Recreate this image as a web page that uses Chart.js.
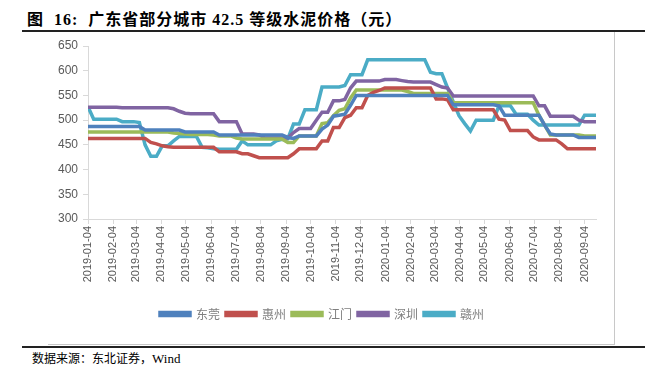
<!DOCTYPE html>
<html>
<head>
<meta charset="utf-8">
<script src="https://cdn.jsdelivr.net/npm/chart.js@4.4.0/dist/chart.umd.min.js"></script>
<style>
  html, body { margin: 0; padding: 0; background: #fff; }
  body { width: 647px; height: 366px; position: relative; overflow: hidden; }
  #title { position: absolute; left: 27px; top: 6px; font-family: "Liberation Serif", "Noto Sans CJK SC", serif; font-weight: bold; font-size: 16px; letter-spacing: 1px; color: #000; white-space: nowrap; }
  #rule1 { position: absolute; left: 22px; top: 30px; width: 623px; height: 2px; background: #222; }
  #frame { position: absolute; left: 48px; top: 32px; width: 566px; height: 312px; border-right: 1px solid #c8c8c8; border-bottom: 1px solid #c8c8c8; }
  #rule2 { position: absolute; left: 22px; top: 346px; width: 623px; height: 2px; background: #222; }
  #source { position: absolute; left: 32px; top: 349px; font-family: "Noto Sans CJK SC", serif; font-size: 12px; color: #000; white-space: nowrap; }
  #source span { font-family: "Liberation Serif", serif; font-size: 13px; }
  #wrap { position: absolute; left: 0; top: 0; width: 647px; height: 366px; }
</style>
</head>
<body>
<div id="title">图&nbsp;&nbsp;16:&nbsp;&nbsp;广东省部分城市 42.5 等级水泥价格（元）</div>
<div id="rule1"></div>
<div id="frame"></div>
<div id="rule2"></div>
<div id="source">数据来源：东北证券，<span>Wind</span></div>
<div id="wrap"><canvas id="c" width="647" height="366"></canvas></div>
<script>
// ---- data (weekly observations starting 2019-01-04) ----
const startDate = '2019-01-04';
const weekCount = 90;
const seriesNames = ['东莞', '惠州', '江门', '深圳', '赣州'];
const seriesColors = ['#4F81BD', '#C0504D', '#9BBB59', '#8064A2', '#4BACC6'];

const dongguan = [487,487,487,487,487,487,487,487,487,487,
  480,480,480,480,480,480,480,
  476,476,476,476,476,476,
  470,470,470,470,470,470,470,470,470,470,470,470,
  465,463,
  468,468,468,468,
  482,490,508,510,512,530,
  550,550,550,550,550,550,550,550,550,550,550,550,550,550,550,550,550,
  531,531,531,531,531,531,531,531,
  529,
  510,510,510,510,510,510,510,
  490,472,
  470,470,470,470,
  465,465,465,465];

const huizhou = [463,463,463,463,463,463,463,463,463,463,463,
  455,452,448,446,
  445,445,445,445,445,445,445,445,
  436,436,436,436,
  432,432,
  428,
  424,424,424,424,424,424,
  432,
  442,442,442,442,
  458,458,
  485,485,
  505,510,
  525,525,
  550,556,560,
  565,565,565,565,565,565,565,565,565,
  543,543,
  541,
  521,521,521,521,521,521,521,521,
  502,500,
  479,479,479,479,
  466,
  460,460,460,460,
  452,
  442,442,442,442,442,442];

const jiangmen = [476,476,476,476,476,476,476,476,476,476,476,476,476,476,476,
  474,473,472,
  471,471,471,471,
  470,
  468,468,468,
  464,
  462,462,462,462,462,462,462,462,
  455,455,
  468,468,468,468,
  493,495,509,520,523,545,
  561,561,561,561,561,561,561,561,561,
  558,
  554,554,554,554,554,554,554,
  535,535,535,535,535,535,535,535,535,535,535,535,535,535,535,
  510,490,
  470,470,470,470,470,470,
  468,468,468];

const shenzhen = [526,526,526,526,526,526,
  525,525,525,525,525,525,525,525,525,
  523,518,514,
  513,513,513,513,513,
  497,497,497,497,
  472,472,472,
  470,
  464,464,464,464,464,
  475,
  483,483,483,
  500,
  516,516,
  539,539,
  542,565,
  579,579,579,579,579,
  582,582,582,
  580,578,
  577,577,577,577,
  572,567,565,
  549,549,549,549,549,549,549,549,549,549,549,549,549,549,549,
  529,529,
  508,508,508,508,508,
  500,
  497,497,497];

const ganzhou = [527,
  502,502,502,502,502,
  497,497,497,
  495,450,
  427,427,
  448,448,
  458,
  467,467,467,467,
  445,444,442,
  441,441,441,441,
  458,
  450,450,450,450,450,
  458,461,462,
  492,492,
  521,521,521,
  567,567,567,567,
  570,
  592,592,592,
  622,622,622,622,622,622,622,622,622,622,622,
  597,
  594,594,
  565,537,509,493,478,
  500,500,500,500,
  529,529,529,
  512,512,512,
  500,
  490,490,490,490,490,490,490,490,
  510,510,510];

const tickLabels = ['2019-01-04','2019-02-04','2019-03-04','2019-04-04','2019-05-04','2019-06-04',
  '2019-07-04','2019-08-04','2019-09-04','2019-10-04','2019-11-04','2019-12-04',
  '2020-01-04','2020-02-04','2020-03-04','2020-04-04','2020-05-04','2020-06-04',
  '2020-07-04','2020-08-04','2020-09-04'];
const yTicks = [300, 350, 400, 450, 500, 550, 600, 650];

// ---- build ----
const DAY = 86400000;
const t0 = Date.parse(startDate + 'T00:00:00Z');
const dayOf = s => Math.round((Date.parse(s + 'T00:00:00Z') - t0) / DAY);
const weekDays = [];
for (let i = 0; i < weekCount; i++) weekDays.push(i * 7);
const tickDays = tickLabels.map(dayOf);
const labelOfDay = {};
tickLabels.forEach((s, i) => { labelOfDay[tickDays[i]] = s; });

const allSeries = [dongguan, huizhou, jiangmen, shenzhen, ganzhou];
const datasets = allSeries.map((vals, k) => ({
  label: seriesNames[k],
  data: vals.map((v, i) => ({ x: weekDays[i], y: v })),
  borderColor: seriesColors[k],
  backgroundColor: seriesColors[k],
  borderWidth: 3.5,
  pointRadius: 0,
  tension: 0,
  fill: false
}));

const axisGrey = '#d9d9d9';
new Chart(document.getElementById('c'), {
  type: 'line',
  data: { datasets },
  options: {
    responsive: false,
    animation: false,
    devicePixelRatio: 1,
    layout: { padding: { left: 48, right: 51, top: 46, bottom: 36 } },
    plugins: {
      legend: {
        display: true,
        position: 'bottom',
        labels: {
          boxWidth: 30,
          boxHeight: 3,
          padding: 6,
          color: '#7f7f7f',
          font: { family: '"Noto Sans CJK SC"', size: 12 }
        }
      },
      tooltip: { enabled: false }
    },
    scales: {
      x: {
        type: 'linear',
        min: 0,
        max: weekDays[weekDays.length - 1],
        afterBuildTicks: s => { s.ticks = tickDays.map(v => ({ value: v })); },
        afterFit: s => { s.height = 83; },
        ticks: {
          autoSkip: false,
          minRotation: 90,
          maxRotation: 90,
          padding: 2,
          color: '#595959',
          font: { family: '"Liberation Sans", sans-serif', size: 11 },
          callback: v => labelOfDay[v] || ''
        },
        grid: { display: true, drawOnChartArea: false, drawTicks: true, tickLength: 5, color: axisGrey },
        border: { display: true, color: axisGrey, width: 1 }
      },
      y: {
        type: 'linear',
        min: 300,
        max: 650,
        afterBuildTicks: s => { s.ticks = yTicks.map(v => ({ value: v })); },
        afterFit: s => { s.width = 40; },
        ticks: {
          padding: 5,
          color: '#595959',
          font: { family: '"Liberation Sans", sans-serif', size: 12 }
        },
        grid: { display: true, drawOnChartArea: false, drawTicks: true, tickLength: 5, color: axisGrey },
        border: { display: true, color: axisGrey, width: 1 }
      }
    }
  }
});
</script>
</body>
</html>
